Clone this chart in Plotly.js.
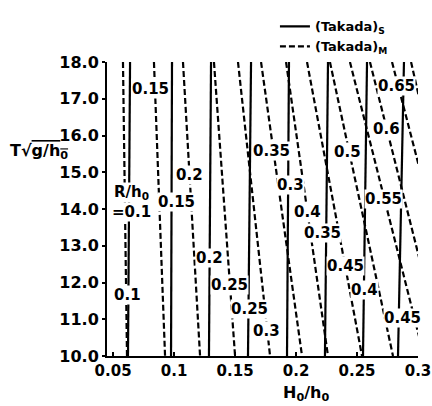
<!DOCTYPE html>
<html>
<head>
<meta charset="utf-8">
<script src="https://cdn.plot.ly/plotly-3.0.1.min.js"></script>
<style>html,body{margin:0;padding:0;background:#fff;}</style>
</head>
<body>
<div id="chart" style="width:432px;height:406px;"></div>
<script>
// ---- data ----
const lineT = [18, 10]; // T*sqrt(g/h0) at the two ends of every line

// (Takada)S : solid lines, R/h0 values
const solidR = [0.1, 0.15, 0.2, 0.25, 0.3, 0.35, 0.4, 0.45];
const solidH_top = [0.0639, 0.0983, 0.1303, 0.1631, 0.1942, 0.2262, 0.2582, 0.2885];
const solidH_bot = [0.0622, 0.0975, 0.1286, 0.1606, 0.1926, 0.2237, 0.2549, 0.2836];
const solidLabels = ['=0.1', '0.15', '0.2', '0.25', '0.3', '0.35', '0.4', '0.45'];
const solidLabelT = [13.92, 14.19, 12.68, 11.27, 14.66, 13.34, 11.80, 11.03];

// (Takada)M : dashed lines, R/h0 values
const dashedR = [0.1, 0.15, 0.2, 0.25, 0.3, 0.35, 0.4, 0.45, 0.5, 0.55, 0.6, 0.65, 0.7];
const dashedH_top = [0.0581, 0.0835, 0.1073, 0.1327, 0.1524, 0.1713, 0.1918, 0.2090, 0.2278, 0.2442, 0.2606, 0.2787, 0.2943];
const dashedH_bot = [0.0614, 0.0926, 0.1213, 0.1500, 0.1787, 0.2049, 0.2262, 0.2541, 0.2795, 0.3049, 0.3212, 0.3410, 0.3492];
const dashedLabels = ['0.1', '0.15', '0.2', '0.25', '0.3', '0.35', '0.4', '0.45', '0.5', '0.55', '0.6', '0.65', ''];
const dashedLabelT = [11.67, 17.26, 14.93, 11.93, 10.69, 15.59, 13.92, 12.46, 15.54, 14.26, 16.17, 17.36, 0];

const xTickVals = [0.05, 0.1, 0.15, 0.2, 0.25, 0.3];
const xTickText = ['0.05', '0.1', '0.15', '0.2', '0.25', '0.3'];
const yTickVals = [10, 11, 12, 13, 14, 15, 16, 17, 18];

// ---- label nudges (pixels) ----
const solidShift = [3, 5, 0, 1, 2, -4, 1, 4];
const dashedShift = [1, -4, 0, 0, -1, -2, 0, 0, -2, -1, 0, -2, 0];

const FONT = 'DejaVu Sans, Arial, sans-serif';

function buildXY(top, bot) {
  const x = [], y = [];
  for (let i = 0; i < top.length; i++) {
    x.push(top[i], bot[i], null);
    y.push(lineT[0], lineT[1], null);
  }
  return {x, y};
}
function hAt(top, bot, T) {
  return bot + (top - bot) * (T - lineT[1]) / (lineT[0] - lineT[1]);
}

const s = buildXY(solidH_top, solidH_bot);
const d = buildXY(dashedH_top, dashedH_bot);

const traces = [
  {x: s.x, y: s.y, mode: 'lines', name: '(Takada)<sub>S</sub>',
   line: {color: '#000', width: 2.2}, hoverinfo: 'skip'},
  {x: d.x, y: d.y, mode: 'lines', name: '(Takada)<sub>M</sub>',
   line: {color: '#000', width: 2.2, dash: '6px,3px'}, hoverinfo: 'skip'}
];

const labelFont = {family: FONT, size: 15, color: '#000', weight: 'bold'};
const annotations = [];
function addLabel(text, x, y, shift) {
  annotations.push({x, y, xref: 'x', yref: 'y', text, showarrow: false,
    font: labelFont, bgcolor: '#fff', borderpad: 0, xshift: shift});
}
solidR.forEach((r, i) => {
  addLabel(solidLabels[i], hAt(solidH_top[i], solidH_bot[i], solidLabelT[i]), solidLabelT[i], solidShift[i]);
});
dashedR.forEach((r, i) => {
  if (!dashedLabels[i]) return;
  addLabel(dashedLabels[i], hAt(dashedH_top[i], dashedH_bot[i], dashedLabelT[i]), dashedLabelT[i], dashedShift[i]);
});
// "R/h0" heading above the first solid label
addLabel('R/h<sub>0</sub>', hAt(solidH_top[0], solidH_bot[0], 14.44), 14.44, 2);

// axis titles
annotations.push({xref: 'paper', yref: 'paper', x: 0.64, y: -0.129, xanchor: 'center', yanchor: 'middle',
  text: 'H<sub>0</sub>/h<sub>0</sub>', showarrow: false,
  font: {family: FONT, size: 16, color: '#000', weight: 'bold'}});
annotations.push({xref: 'paper', yref: 'paper', x: -0.218, y: 0.694, xanchor: 'center', yanchor: 'middle',
  text: 'T√<span style="text-decoration:overline">g/h<sub>0</sub></span>', showarrow: false,
  font: {family: FONT, size: 16, color: '#000', weight: 'bold'}});

const layout = {
  width: 432, height: 406,
  margin: {l: 107, r: 14, t: 54, b: 50, pad: 0},
  paper_bgcolor: '#fff', plot_bgcolor: '#fff',
  showlegend: true,
  legend: {x: 0.54, y: 1.172, xanchor: 'left', yanchor: 'top', bgcolor: 'rgba(0,0,0,0)',
    font: {family: FONT, size: 13, color: '#000', weight: 'bold'}, tracegroupgap: 0},
  xaxis: {range: [0.045, 0.3], tickvals: xTickVals, ticktext: xTickText, showgrid: false, zeroline: false,
    showline: true, linecolor: '#000', linewidth: 2, ticks: 'inside', ticklen: 4, tickwidth: 2, tickcolor: '#000',
    tickfont: {family: FONT, size: 15, color: '#000', weight: 'bold'}, fixedrange: true},
  yaxis: {range: [10, 18], tickvals: yTickVals, tickformat: '.1f', showgrid: false, zeroline: false,
    showline: true, linecolor: '#000', linewidth: 2, ticks: 'outside', ticklen: 3, tickwidth: 2, tickcolor: '#000',
    tickfont: {family: FONT, size: 16, color: '#000', weight: 'bold'}, fixedrange: true},
  annotations: annotations
};

Plotly.newPlot('chart', traces, layout, {displayModeBar: false, staticPlot: true});
</script>
</body>
</html>
